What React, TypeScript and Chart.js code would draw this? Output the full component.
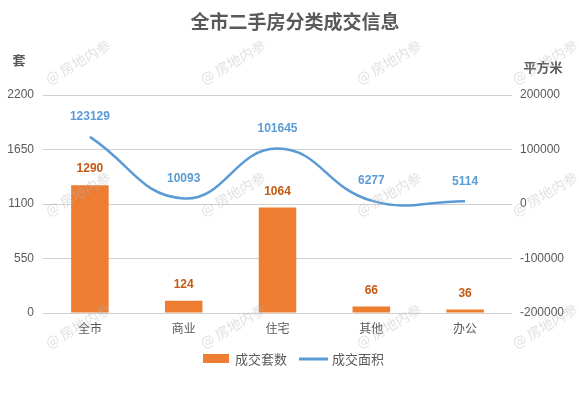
import React, { useEffect, useRef } from "react";
import { Chart, registerables } from "chart.js";

Chart.register(...registerables);

const chartTitle = "全市二手房分类成交信息";
const leftAxisTitle = "套";
const rightAxisTitle = "平方米";
const categories = ["全市", "商业", "住宅", "其他", "办公"];
const dealCounts = [1290, 124, 1064, 66, 36];
const dealAreas = [123129, 10093, 101645, 6277, 5114];
const countSeriesName = "成交套数";
const areaSeriesName = "成交面积";
const watermarkText = "@ 房地内参";

const FONT = '"Liberation Sans", "Noto Sans CJK SC", sans-serif';
const CJK = '"Noto Sans CJK SC", "Liberation Sans", sans-serif';
const ORANGE = "#ED7D31";
const BLUE = "#5B9BD5";
const TEXT = "#595959";

const decorPlugin = {
  id: "decor",
  afterDatasetsDraw(chart: any) {
    const ctx = chart.ctx;
    ctx.save();
    ctx.textAlign = "center";
    ctx.textBaseline = "middle";
    chart.data.datasets.forEach((ds: any, i: number) => {
      const meta = chart.getDatasetMeta(i);
      meta.data.forEach((el: any, j: number) => {
        const v = ds.data[j];
        if (ds.type === "bar") {
          ctx.font = "bold 12px " + FONT;
          ctx.fillStyle = "#C65911";
          ctx.fillText(String(v), el.x, el.y - 16);
        } else {
          ctx.font = "bold 12px " + FONT;
          ctx.fillStyle = BLUE;
          ctx.fillText(String(v), el.x, el.y - 20);
        }
      });
    });
    ctx.restore();
  },
  afterDraw(chart: any) {
    const ctx = chart.ctx;
    ctx.save();
    // title
    ctx.font = "bold 19px " + CJK;
    ctx.fillStyle = TEXT;
    ctx.textAlign = "center";
    ctx.textBaseline = "middle";
    ctx.fillText(chartTitle, 295, 22);
    // axis titles
    ctx.font = "bold 13px " + CJK;
    ctx.fillText(leftAxisTitle, 19, 60);
    ctx.fillText(rightAxisTitle, 543, 67);
    // legend
    ctx.font = "13px " + CJK;
    ctx.textAlign = "left";
    ctx.fillStyle = ORANGE;
    ctx.fillRect(203, 354, 26, 9);
    ctx.fillStyle = TEXT;
    ctx.fillText(countSeriesName, 235, 359);
    ctx.strokeStyle = BLUE;
    ctx.lineWidth = 3;
    ctx.beginPath();
    ctx.moveTo(299, 359);
    ctx.lineTo(328, 359);
    ctx.stroke();
    ctx.fillText(areaSeriesName, 332, 359);
    // watermarks
    ctx.font = "14px " + CJK;
    ctx.fillStyle = "rgba(180,180,180,0.4)";
    ctx.textAlign = "center";
    [62, 194, 326].forEach((wy) => {
      [78, 233, 389, 545].forEach((wx) => {
        ctx.save();
        ctx.translate(wx, wy);
        ctx.rotate(-Math.PI / 6);
        ctx.fillText(watermarkText, 0, 0);
        ctx.restore();
      });
    });
    ctx.restore();
  },
};

export default function App() {
  const ref = useRef<HTMLCanvasElement | null>(null);
  useEffect(() => {
    if (!ref.current) return;
    const chart = new Chart(ref.current, {
      data: {
        labels: categories,
        datasets: [
          {
            type: "line",
            label: areaSeriesName,
            data: dealAreas,
            yAxisID: "y1",
            borderColor: BLUE,
            backgroundColor: BLUE,
            borderWidth: 2.5,
            tension: 0.45,
            pointRadius: 0,
            order: 0,
          } as any,
          {
            type: "bar",
            label: countSeriesName,
            data: dealCounts,
            yAxisID: "y",
            backgroundColor: ORANGE,
            barPercentage: 0.4,
            categoryPercentage: 1,
            order: 1,
          } as any,
        ],
      },
      options: {
        animation: false,
        responsive: true,
        maintainAspectRatio: false,
        layout: { padding: { top: 95, left: 0, right: 0, bottom: 0 } },
        plugins: {
          legend: { display: false },
          title: { display: false },
          tooltip: { enabled: false },
        },
        scales: {
          x: {
            grid: { display: false },
            border: { display: false },
            ticks: { color: TEXT, font: { size: 12, family: CJK }, padding: 0 },
            afterFit: (s: any) => {
              s.height = 81;
            },
          },
          y: {
            position: "left",
            min: 0,
            max: 2200,
            ticks: {
              stepSize: 550,
              color: TEXT,
              font: { size: 12, family: FONT },
              padding: 9,
              callback: (v: any) => String(v),
            },
            grid: { color: "#D0D0D0", drawTicks: false },
            border: { display: false },
            afterFit: (s: any) => {
              s.width = 43;
            },
          },
          y1: {
            position: "right",
            min: -200000,
            max: 200000,
            ticks: {
              stepSize: 100000,
              color: TEXT,
              font: { size: 12, family: FONT },
              padding: 8,
              callback: (v: any) => String(v),
            },
            grid: { drawOnChartArea: false, drawTicks: false },
            border: { display: false },
            afterFit: (s: any) => {
              s.width = 67;
            },
          },
        },
      } as any,
      plugins: [decorPlugin],
    });
    return () => chart.destroy();
  }, []);
  return (
    <div style={{ position: "absolute", left: 0, top: 0, width: 579, height: 394, background: "#fff" }}>
      <canvas ref={ref} />
    </div>
  );
}
